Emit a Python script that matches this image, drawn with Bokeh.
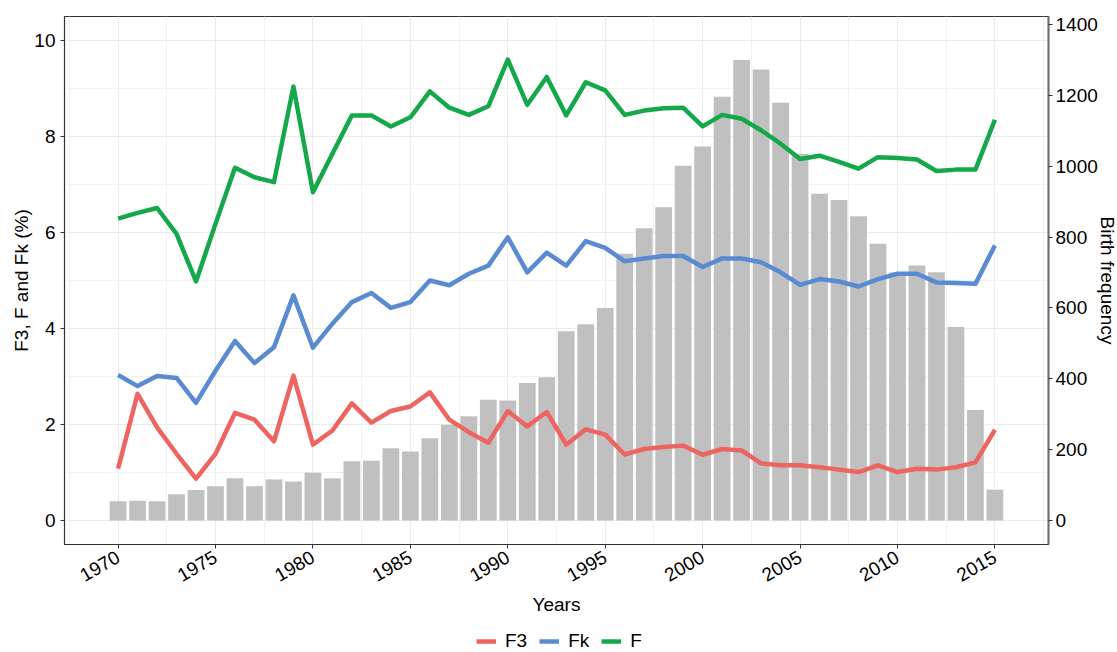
from math import pi
from bokeh.plotting import figure
from bokeh.layouts import column
from bokeh.models import (Range1d, LinearAxis, FixedTicker, SingleIntervalTicker,
                          Legend, LegendItem)
from bokeh.embed import file_html
from bokeh.resources import INLINE

years = list(range(1970, 2016))
births = [54, 56, 54, 74, 86, 97, 119, 97, 116, 110,
          135, 119, 167, 169, 204, 195, 232, 270, 294, 341,
          339, 388, 404, 534, 554, 600, 753, 825, 884, 1001,
          1056, 1196, 1300, 1273, 1179, 1035, 922, 905, 859, 781,
          700, 720, 701, 546, 312, 87]
F = [6.29, 6.41, 6.51, 5.97, 4.98, 6.18, 7.35, 7.15, 7.05, 9.04,
     6.84, 7.64, 8.44, 8.44, 8.21, 8.40, 8.94, 8.60, 8.45, 8.63,
     9.60, 8.66, 9.24, 8.44, 9.13, 8.96, 8.45, 8.54, 8.59, 8.60,
     8.21, 8.45, 8.37, 8.13, 7.85, 7.53, 7.60, 7.47, 7.33, 7.57,
     7.55, 7.52, 7.28, 7.31, 7.31, 8.35]
Fk = [3.03, 2.80, 3.01, 2.97, 2.45, 3.12, 3.74, 3.28, 3.61, 4.69,
      3.60, 4.10, 4.55, 4.74, 4.43, 4.55, 5.00, 4.90, 5.14, 5.31,
      5.90, 5.17, 5.58, 5.31, 5.82, 5.68, 5.40, 5.46, 5.51, 5.51,
      5.28, 5.46, 5.46, 5.38, 5.17, 4.91, 5.03, 4.98, 4.875, 5.03,
      5.14, 5.14, 4.96, 4.95, 4.93, 5.73]
F3 = [1.08, 2.64, 1.94, 1.39, 0.87, 1.39, 2.24, 2.10, 1.65, 3.02,
      1.58, 1.875, 2.44, 2.04, 2.28, 2.375, 2.67, 2.10, 1.84, 1.62,
      2.28, 1.96, 2.26, 1.58, 1.90, 1.79, 1.375, 1.49, 1.53, 1.56,
      1.37, 1.49, 1.46, 1.19, 1.15, 1.15, 1.11, 1.06, 1.01, 1.15,
      1.01, 1.08, 1.06, 1.11, 1.21, 1.89]
series_names = ["F3", "Fk", "F"]
series_colors = ["#EE6460", "#5A8AD2", "#15A84A"]
x_ticks = [1970, 1975, 1980, 1985, 1990, 1995, 2000, 2005, 2010, 2015]
x_minor = [1967.5, 1972.5, 1977.5, 1982.5, 1987.5, 1992.5, 1997.5, 2002.5, 2007.5, 2012.5, 2017.5]

K = 1400 / 10.333
FONT = "Liberation Sans"
FS = "19px"

p = figure(frame_width=984, frame_height=528, output_backend="svg", toolbar_location=None,
           x_range=Range1d(1967.25, 2017.75), y_range=Range1d(-0.5, 10.5),
           min_border_left=64, min_border_right=69, min_border_top=16,
           min_border_bottom=86)
p.extra_y_ranges = {"births": Range1d(-0.5 * K, 10.5 * K)}
p.background_fill_color = "white"
p.border_fill_color = "white"
p.outline_line_color = "#333333"
p.outline_line_width = 1.2

left = p.left[0]
bottom = p.below[0]

xt = FixedTicker(ticks=x_ticks, minor_ticks=x_minor)
yt = SingleIntervalTicker(interval=2, num_minor_ticks=2)
bottom.ticker = xt
left.ticker = yt
p.xgrid.ticker = xt
p.ygrid.ticker = yt
for g in (p.xgrid[0], p.ygrid[0]):
    g.grid_line_color = "#E9EDED"
    g.grid_line_width = 1
    g.minor_grid_line_color = "#F1F3F3"
    g.minor_grid_line_width = 1

right = LinearAxis(y_range_name="births", ticker=SingleIntervalTicker(interval=200),
                   axis_label="Birth frequency")
p.add_layout(right, "right")

bottom.axis_label = "Years"
left.axis_label = "F3, F and Fk (%)"
bottom.major_label_orientation = pi / 6

for ax in (bottom, left, right):
    ax.major_label_text_font = FONT
    ax.major_label_text_font_size = FS
    ax.major_label_text_color = "black"
    ax.axis_label_text_font = FONT
    ax.axis_label_text_font_size = FS
    ax.axis_label_text_font_style = "normal"
    ax.axis_label_text_color = "black"
    ax.minor_tick_line_color = None
    ax.major_tick_in = 0
    ax.major_tick_out = 4
    ax.major_tick_line_color = "#333333"
    ax.axis_line_color = "#333333"
    ax.major_label_standoff = 5
    ax.axis_label_standoff = 4
left.axis_label_standoff = -1
right.axis_line_color = "#66706F"
right.axis_line_width = 2
right.major_label_standoff = 3
right.axis_label_standoff = -4
bottom.major_label_standoff = 7
bottom.axis_label_standoff = 3

p.vbar(x=years, top=births, width=0.86, bottom=0, y_range_name="births",
       fill_color="#C0C0C0", line_color=None)

for vals, color in zip((F3, Fk, F), series_colors):
    p.line(years, vals, line_color=color, line_width=4.5, line_join="round")

# legend strip below the chart (its lines lie outside the strip's view)
lg = figure(width=1117, height=22, output_backend="svg", toolbar_location=None,
            x_range=Range1d(0, 1), y_range=Range1d(0, 1),
            min_border=0, outline_line_color=None)
lg.axis.visible = False
lg.grid.visible = False
items = []
for name, vals, color in zip(series_names, (F3, Fk, F), series_colors):
    r = lg.line(years, vals, line_color=color, line_width=4.5)
    items.append(LegendItem(label=name, renderers=[r]))
legend = Legend(items=items, orientation="horizontal", location=(412, 0),
                border_line_color=None, background_fill_alpha=0,
                label_text_font=FONT, label_text_font_size=FS,
                label_text_color="black",
                glyph_width=20, glyph_height=18, label_standoff=9, spacing=12,
                padding=0, margin=0)
lg.add_layout(legend, "center")

layout = column(p, lg, spacing=0)
open("out.html", "w").write(file_html(layout, INLINE))
